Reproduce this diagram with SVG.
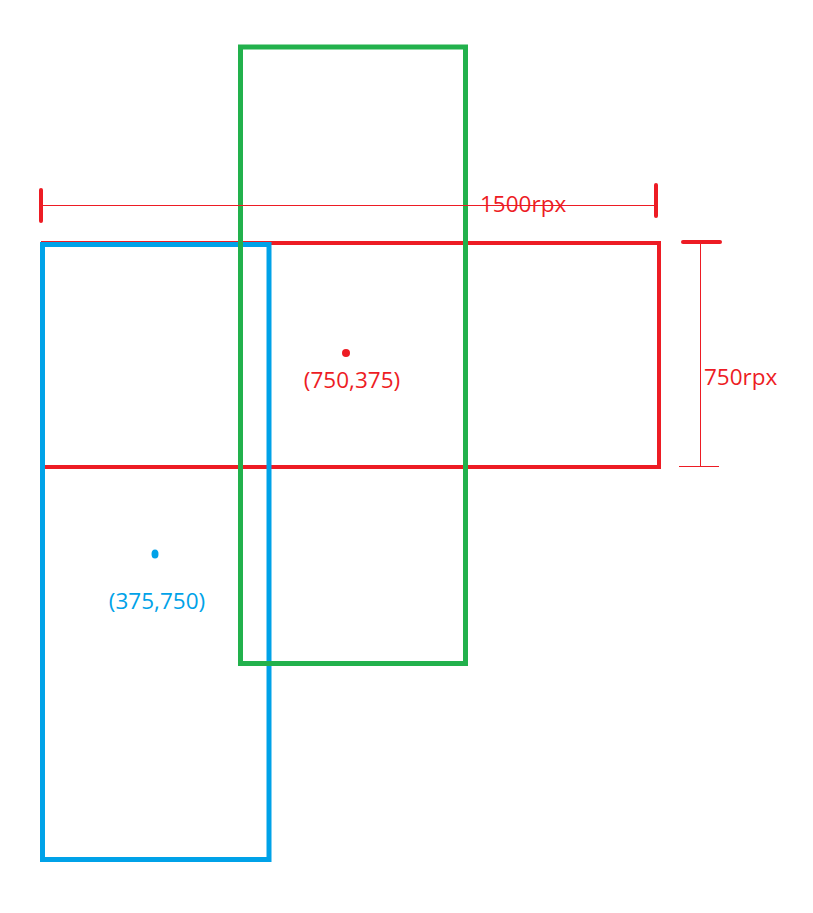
<svg xmlns="http://www.w3.org/2000/svg" width="813" height="913" viewBox="0 0 813 913">
<style>
.r{stroke:#ed1c24;fill:none}
.b{stroke:#00a2e8;fill:none}
.g{stroke:#22b14c;fill:none}
.t{font-family:"Open Sans","Noto Sans","Liberation Sans",sans-serif;font-size:22.5px}
.tr{fill:#ed1c24}
.tb{fill:#00a2e8}
</style>
<rect width="813" height="913" fill="#ffffff"/>
<g id="red-rect">
<rect class="r" x="43" y="243" width="616" height="224" stroke-width="4"/>
<circle cx="346" cy="353" r="4" fill="#ed1c24"/>
<text class="t tr" x="352" y="388" text-anchor="middle">(750,375)</text>
</g>
<g id="blue-rect">
<rect class="b" x="42.5" y="244.5" width="226.5" height="615" stroke-width="5"/>
<ellipse cx="155" cy="554" rx="3.5" ry="4.5" fill="#00a2e8"/>
<text class="t tb" x="157" y="609" text-anchor="middle">(375,750)</text>
</g>
<g id="green-rect">
<rect class="g" x="240.5" y="47" width="225" height="616.5" stroke-width="5"/>
</g>
<g id="connectors">
<g id="dim-width">
<line class="r" x1="42" y1="205.5" x2="655" y2="205.5" stroke-width="1"/>
<line class="r" x1="41" y1="190" x2="41" y2="221" stroke-width="4" stroke-linecap="round"/>
<line class="r" x1="656" y1="185" x2="656" y2="216" stroke-width="4" stroke-linecap="round"/>
<text class="t tr" x="480" y="212">1500rpx</text>
</g>
<g id="dim-height">
<line class="r" x1="700.5" y1="242" x2="700.5" y2="466" stroke-width="1"/>
<line class="r" x1="683" y1="242" x2="720" y2="242" stroke-width="4" stroke-linecap="round"/>
<line class="r" x1="679" y1="466.5" x2="719" y2="466.5" stroke-width="1"/>
<text class="t tr" x="704" y="385">750rpx</text>
</g>
</g>
</svg>
